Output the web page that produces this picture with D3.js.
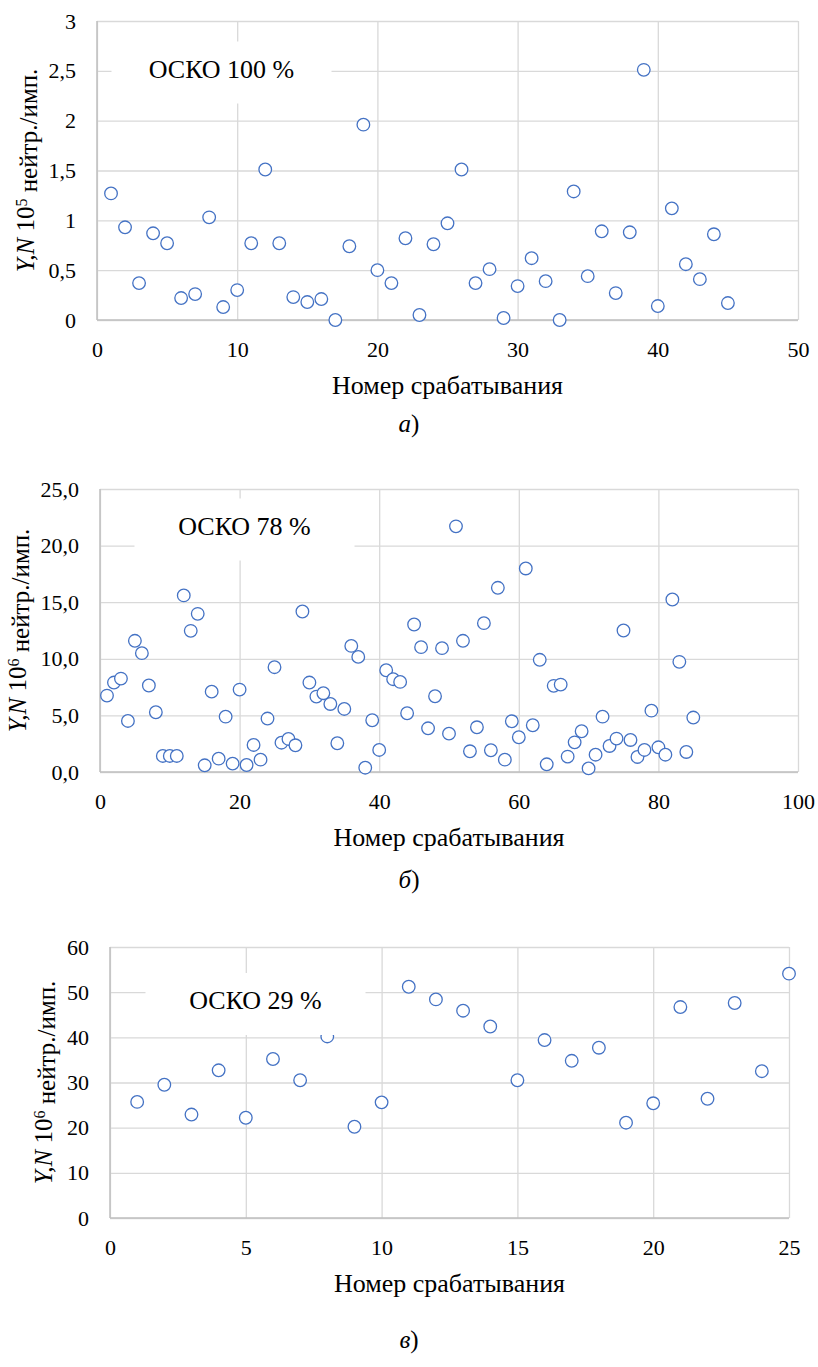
<!DOCTYPE html>
<html>
<head>
<meta charset="utf-8">
<script src="https://cdn.jsdelivr.net/npm/d3@7"></script>
<style>
  body { margin: 0; background: #fff; }
</style>
</head>
<body>
<script>
// values, x = run number 1..n
const yieldA = [1.27, 0.93, 0.37, 0.87, 0.77, 0.22, 0.26, 1.03, 0.13, 0.30,
                0.77, 1.51, 0.77, 0.23, 0.18, 0.21, 0.00, 0.74, 1.96, 0.50,
                0.37, 0.82, 0.05, 0.76, 0.97, 1.51, 0.37, 0.51, 0.02, 0.34,
                0.62, 0.39, 0.00, 1.29, 0.44, 0.89, 0.27, 0.88, 2.51, 0.14,
                1.12, 0.56, 0.41, 0.86, 0.17]
const yieldB = [6.75, 7.90, 8.25, 4.51, 11.59, 10.50, 7.64, 5.28, 1.42, 1.42,
                1.42, 15.60, 12.47, 13.97, 0.59, 7.10, 1.18, 4.89, 0.74, 7.28,
                0.62, 2.39, 1.09, 4.72, 9.26, 2.59, 2.92, 2.36, 14.18, 7.90,
                6.66, 6.96, 6.01, 2.54, 5.57, 11.14, 10.17, 0.38, 4.57, 1.95,
                8.99, 8.20, 7.96, 5.19, 13.03, 11.03, 3.86, 6.69, 10.94, 3.39,
                21.70, 11.59, 1.83, 3.95, 13.15, 1.92, 16.27, 1.09, 4.48, 3.07,
                17.98, 4.13, 9.91, 0.68, 7.61, 7.72, 1.36, 2.62, 3.60, 0.32,
                1.53, 4.89, 2.30, 2.95, 12.50, 2.83, 1.33, 1.95, 5.42, 2.18,
                1.53, 15.24, 9.73, 1.77, 4.81]
const yieldC = [25.7, 29.5, 22.9, 32.7, 22.2, 35.2, 30.5, 40.2, 20.2, 25.6,
                51.2, 48.4, 45.9, 42.4, 30.5, 39.4, 34.8, 37.7, 21.1, 25.4,
                46.7, 26.4, 47.6, 32.5, 54.1]

const xTicksA = [0, 10, 20, 30, 40, 50]
const yTicksA = [0, 0.5, 1, 1.5, 2, 2.5, 3]
const xTicksB = [0, 20, 40, 60, 80, 100]
const yTicksB = [0, 5, 10, 15, 20, 25]
const xTicksC = [0, 5, 10, 15, 20, 25]
const yTicksC = [0, 10, 20, 30, 40, 50, 60]

const noteA = 'ОСКО 100 %'
const noteB = 'ОСКО 78 %'
const noteC = 'ОСКО 29 %'
const xTitle = 'Номер срабатывания'

const serif = "'Times New Roman', Times, 'Liberation Serif', 'DejaVu Serif', 'Noto Serif', serif"
const blue = '#4472c4'
const grid = '#d9d9d9'
const axisGrey = '#bfbfbf'

const svg = d3.select('body')
    .append('svg')
    .attr('width', 818)
    .attr('height', 1367)
    .attr('font-family', serif)

function panel(p) {
    const xScale = d3.scaleLinear()
        .domain([0, p.xTicks[p.xTicks.length - 1]])
        .range([p.left, p.right])
    const yScale = d3.scaleLinear()
        .domain([0, p.yTicks[p.yTicks.length - 1]])
        .range([p.bottom, p.top])

    const g = svg.append('g')

    const xAxis = d3.axisBottom(xScale)
        .tickValues(p.xTicks)
        .tickSize(-(p.bottom - p.top))
        .tickFormat(d => d)
    const yAxis = d3.axisLeft(yScale)
        .tickValues(p.yTicks)
        .tickSize(-(p.right - p.left))
        .tickPadding(21)
        .tickFormat(p.yFormat)

    const gx = g.append('g')
        .attr('transform', 'translate(0,' + p.bottom + ')')
        .call(xAxis)
    const gy = g.append('g')
        .attr('transform', 'translate(' + p.left + ',0)')
        .call(yAxis)

    for (const a of [gx, gy]) {
        a.attr('font-family', serif).attr('font-size', 22)
        a.select('.domain').remove()
        a.selectAll('line').attr('stroke', grid).attr('stroke-width', 1.3)
        a.selectAll('text').attr('fill', '#000')
    }
    gx.selectAll('text').attr('y', 37).attr('dy', 0)

    // left and bottom axis lines
    g.append('line')
        .attr('x1', p.left).attr('x2', p.left)
        .attr('y1', p.top).attr('y2', p.bottom)
        .attr('stroke', axisGrey).attr('stroke-width', 1.5)
    g.append('line')
        .attr('x1', p.left).attr('x2', p.right)
        .attr('y1', p.bottom).attr('y2', p.bottom)
        .attr('stroke', axisGrey).attr('stroke-width', 1.5)

    g.selectAll('circle')
        .data(p.values)
        .enter()
        .append('circle')
        .attr('cx', (d, i) => xScale(i + 1))
        .attr('cy', d => yScale(d))
        .attr('r', 6.3)
        .attr('fill', '#fff')
        .attr('stroke', blue)
        .attr('stroke-width', 1.3)

    // note box sits over the grid and the points
    g.append('rect')
        .attr('x', p.note[0] - 110)
        .attr('y', p.note[1] - 31)
        .attr('width', 220)
        .attr('height', 62)
        .attr('fill', '#fff')
    g.append('text')
        .attr('x', p.note[0])
        .attr('y', p.note[1] + 5)
        .attr('text-anchor', 'middle')
        .attr('font-size', 26)
        .text(p.noteText)

    g.append('text')
        .attr('x', (p.left + p.right) / 2)
        .attr('y', p.bottom + 74)
        .attr('text-anchor', 'middle')
        .attr('font-size', 26)
        .text(xTitle)

    const yt = g.append('text')
        .attr('transform', `translate(${p.yTitleX},${(p.top + p.bottom) / 2}) rotate(-90)`)
        .attr('text-anchor', 'middle')
        .attr('dy', '0.35em')
        .attr('font-size', 25)
    yt.append('tspan').attr('font-style', 'italic').text('Y,N')
    yt.append('tspan').text(' 10')
    yt.append('tspan').attr('dy', '-0.4em').attr('font-size', 16).text(p.power)
    yt.append('tspan').attr('dy', '0.4em').text(' нейтр./имп.')

    g.append('text')
        .attr('x', 409)
        .attr('y', p.letterY)
        .attr('text-anchor', 'middle')
        .attr('font-size', 25)
        .html('<tspan font-style="italic">' + p.letter + '</tspan>)')
}

panel({
    values: yieldA, xTicks: xTicksA, yTicks: yTicksA,
    yFormat: d => String(d).replace('.', ','),
    left: 97, right: 798, top: 21, bottom: 320,
    note: [221.5, 72.5], noteText: noteA,
    yTitleX: 25, power: '5', letter: 'а', letterY: 432
})

panel({
    values: yieldB, xTicks: xTicksB, yTicks: yTicksB,
    yFormat: d => d.toFixed(1).replace('.', ','),
    left: 100, right: 798, top: 489, bottom: 772,
    note: [244.5, 529.5], noteText: noteB,
    yTitleX: 17, power: '6', letter: 'б', letterY: 888
})

panel({
    values: yieldC, xTicks: xTicksC, yTicks: yTicksC,
    yFormat: d => d,
    left: 110, right: 789, top: 947, bottom: 1218,
    note: [255.5, 1004], noteText: noteC,
    yTitleX: 43, power: '6', letter: 'в', letterY: 1348
})
</script>
</body>
</html>
